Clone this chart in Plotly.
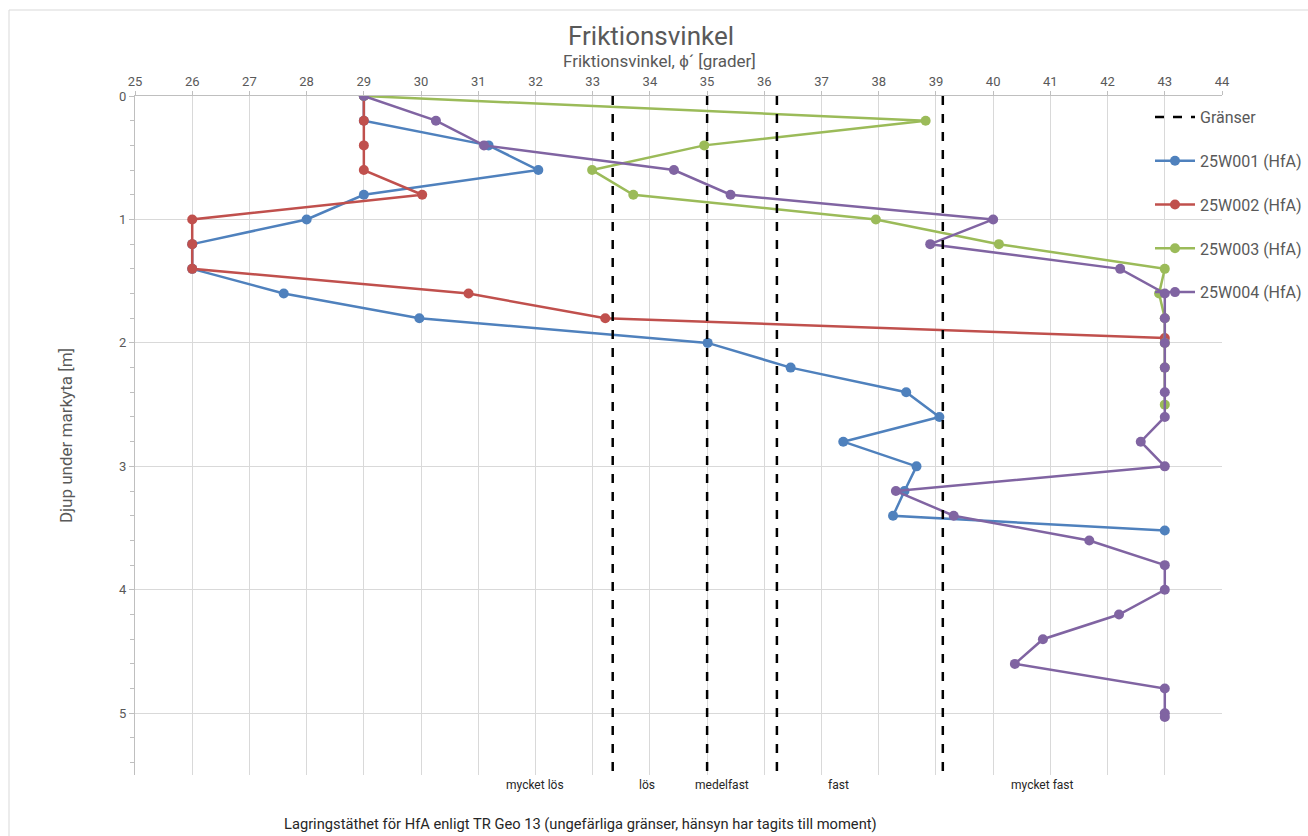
import plotly.graph_objects as go

# Friction angle (degrees) versus depth below ground surface (m)
w001_phi = [29, 29, 31.18, 32.05, 29.0, 28.0, 26.0, 26.0, 27.6, 29.97, 35.01, 36.46,
            38.48, 39.06, 37.38, 38.66, 38.45, 38.25, 43.0]
w001_depth = [0, 0.2, 0.4, 0.6, 0.8, 1.0, 1.2, 1.4, 1.6, 1.8, 2.0, 2.2,
              2.4, 2.6, 2.8, 3.0, 3.2, 3.4, 3.52]

w002_phi = [29, 29, 29, 29, 30.02, 26.0, 26.0, 26.0, 30.83, 33.22, 43.0]
w002_depth = [0, 0.2, 0.4, 0.6, 0.8, 1.0, 1.2, 1.4, 1.6, 1.8, 1.96]

w003_phi = [29, 38.82, 34.95, 32.99, 33.71, 37.95, 40.1, 43.0, 42.9, 43.0, 43.0, 43.0, 43.0]
w003_depth = [0, 0.2, 0.4, 0.6, 0.8, 1.0, 1.2, 1.4, 1.6, 1.8, 2.0, 2.2, 2.5]

w004_phi = [29, 30.26, 31.1, 34.42, 35.41, 40.0, 38.9, 42.22, 43.0, 43.0, 43.0, 43.0,
            43.0, 43.0, 42.58, 43.0, 38.3, 39.31, 41.68, 43.0, 43.0, 42.2, 40.87,
            40.38, 43.0, 43.0, 43.0]
w004_depth = [0, 0.2, 0.4, 0.6, 0.8, 1.0, 1.2, 1.4, 1.6, 1.8, 2.0, 2.2,
              2.4, 2.6, 2.8, 3.0, 3.2, 3.4, 3.6, 3.8, 4.0, 4.2, 4.4,
              4.6, 4.8, 5.0, 5.03]

# Approximate density class boundaries (TR Geo 13)
boundary_phi = [33.35, 35.0, 36.22, 39.12]
boundary_depth = [0, 5.5]

density_labels = ["mycket lös", "lös", "medelfast", "fast", "mycket fast"]
density_label_phi = [32.0, 33.95, 35.26, 37.29, 40.86]

series = [
    ("25W001 (HfA)", w001_phi, w001_depth, "#4F81BD"),
    ("25W002 (HfA)", w002_phi, w002_depth, "#C0504D"),
    ("25W003 (HfA)", w003_phi, w003_depth, "#9BBB59"),
    ("25W004 (HfA)", w004_phi, w004_depth, "#8064A2"),
]

FONT = "Liberation Sans Narrow, Roboto, Arial Narrow, sans-serif"
GREY = "#595959"

# Plot-area geometry in pixels
L, R, T, B = 135, 1222, 96, 775
PW, PH = R - L, B - T

fig = go.Figure()

for i, (name, phi, depth, color) in enumerate(series):
    fig.add_trace(go.Scatter(
        x=phi, y=depth, name=name, mode="lines+markers",
        line=dict(color=color, width=2.5),
        marker=dict(color=color, size=10),
        legendgroup=name, legendrank=i + 2,
    ))

# Boundary lines as one dashed trace
bx, by = [], []
for p in boundary_phi:
    bx += [p, p, None]
    by += [boundary_depth[0], boundary_depth[1], None]
fig.add_trace(go.Scatter(
    x=bx, y=by, name="Gränser", mode="lines",
    line=dict(color="black", width=2.5, dash="dash"),
    legendgroup="Gränser", legendrank=1,
))

annotations = []
for lab, p in zip(density_labels, density_label_phi):
    annotations.append(dict(
        x=p, y=-(785 - B) / PH, xref="x", yref="paper", text=lab, showarrow=False,
        xanchor="center", yanchor="middle",
        font=dict(family=FONT, size=12, color="#262626"),
    ))
annotations.append(dict(
    x=(580 - L) / PW, y=-(824 - B) / PH, xref="paper", yref="paper",
    text="Lagringstäthet för HfA enligt TR Geo 13 (ungefärliga gränser, hänsyn har tagits till moment)",
    showarrow=False, xanchor="center", yanchor="middle",
    font=dict(family=FONT, size=14.7, color="#262626"),
))
annotations.append(dict(
    x=(659 - L) / PW, y=1 + (T - 61) / PH, xref="paper", yref="paper",
    text="Friktionsvinkel, ϕ´ [grader]", showarrow=False,
    xanchor="center", yanchor="middle",
    font=dict(family=FONT, size=17, color=GREY),
))

fig.update_layout(
    width=1308, height=836,
    margin=dict(l=L, r=1308 - R, t=T, b=836 - B, autoexpand=False),
    paper_bgcolor="white", plot_bgcolor="white",
    font=dict(family=FONT, color=GREY),
    title=dict(
        text="Friktionsvinkel", x=651 / 1308, xanchor="center",
        y=1 - 36 / 836, yanchor="middle", yref="container",
        font=dict(family=FONT, size=26, color=GREY),
    ),
    legend=dict(
        x=(1150 - L) / PW, y=1 - (100 - T) / PH,
        xanchor="left", yanchor="top",
        bgcolor="rgba(0,0,0,0)",
        font=dict(family=FONT, size=16, color=GREY),
        tracegroupgap=20, itemwidth=40,
    ),
    annotations=annotations,
    shapes=[dict(
        type="rect", xref="paper", yref="paper",
        x0=(9 - L) / PW, x1=(1320 - L) / PW,
        y0=-(850 - B) / PH, y1=1 + (T - 10) / PH,
        line=dict(color="#D9D9D9", width=1), layer="below",
    )],
)

fig.update_xaxes(
    side="top", range=[25, 44], dtick=1, tick0=25,
    showgrid=True, gridcolor="#D9D9D9", gridwidth=1,
    showline=True, linecolor="#BFBFBF", linewidth=1,
    ticks="outside", ticklen=4, tickcolor="#BFBFBF",
    tickfont=dict(family=FONT, size=13, color=GREY),
    zeroline=False,
)
fig.update_yaxes(
    range=[5.5, 0], dtick=1, tick0=0,
    showgrid=True, gridcolor="#D9D9D9", gridwidth=1,
    showline=True, linecolor="#BFBFBF", linewidth=1,
    ticks="outside", ticklen=5, tickcolor="#BFBFBF",
    minor=dict(dtick=0.2, ticks="outside", ticklen=4, tickcolor="#BFBFBF", showgrid=False),
    tickfont=dict(family=FONT, size=13, color=GREY),
    title=dict(text="Djup under markyta [m]", standoff=42,
               font=dict(family=FONT, size=17, color=GREY)),
    zeroline=False,
)

fig.write_html("out.html")
